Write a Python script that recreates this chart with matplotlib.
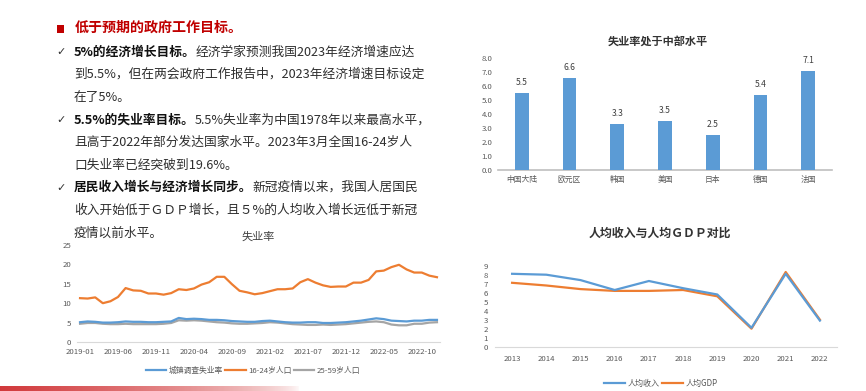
import matplotlib
matplotlib.use("Agg")
import matplotlib.pyplot as plt
import numpy as np
from matplotlib.patches import Rectangle

plt.rcParams['font.family'] = ['Noto Sans CJK SC', 'DejaVu Sans']

W, H = 866, 391
FAM = ['Noto Sans CJK SC', 'DejaVu Sans']

# ---------------- data ----------------
# Unemployment monthly 2019-01 .. 2022-12
urban_rate = [5.1, 5.3, 5.2, 5.0, 5.0, 5.1, 5.3, 5.2, 5.2, 5.1, 5.1, 5.2,
              5.3, 6.2, 5.9, 6.0, 5.9, 5.7, 5.7, 5.6, 5.4, 5.3, 5.2, 5.2,
              5.4, 5.5, 5.3, 5.1, 5.0, 5.0, 5.1, 5.1, 4.9, 4.9, 5.0, 5.1,
              5.3, 5.5, 5.8, 6.1, 5.9, 5.5, 5.4, 5.3, 5.5, 5.5, 5.7, 5.7]
youth_rate = [11.3, 11.2, 11.5, 10.0, 10.5, 11.6, 13.9, 13.3, 13.2, 12.5, 12.5, 12.2,
              12.6, 13.6, 13.4, 13.8, 14.8, 15.4, 16.8, 16.8, 14.9, 13.2, 12.8, 12.3,
              12.6, 13.1, 13.6, 13.6, 13.8, 15.4, 16.2, 15.3, 14.6, 14.2, 14.3, 14.3,
              15.3, 15.3, 16.0, 18.2, 18.4, 19.3, 19.9, 18.7, 17.9, 17.9, 17.1, 16.7]
prime_rate = [4.7, 4.9, 4.9, 4.7, 4.6, 4.6, 4.7, 4.6, 4.6, 4.6, 4.6, 4.7,
              4.9, 5.6, 5.5, 5.6, 5.5, 5.3, 5.1, 5.0, 4.8, 4.7, 4.7, 4.8,
              4.9, 5.1, 5.0, 4.8, 4.6, 4.5, 4.4, 4.4, 4.5, 4.4, 4.5, 4.6,
              4.8, 5.0, 5.2, 5.3, 5.1, 4.5, 4.3, 4.3, 4.7, 4.7, 5.0, 5.1]
months = [f"{2019 + i // 12}-{i % 12 + 1:02d}" for i in range(48)]
line_series_names = ['城镇调查失业率', '16-24岁人口', '25-59岁人口']

# Bar chart
bar_categories = ['中国大陆', '欧元区', '韩国', '美国', '日本', '德国', '法国']
bar_values = [5.5, 6.6, 3.3, 3.5, 2.5, 5.4, 7.1]

# Income vs GDP
years = ['2013', '2014', '2015', '2016', '2017', '2018', '2019', '2020', '2021', '2022']
income_growth = [8.1, 8.0, 7.4, 6.3, 7.3, 6.5, 5.8, 2.1, 8.1, 2.9]
gdp_growth = [7.1, 6.8, 6.4, 6.2, 6.2, 6.3, 5.6, 2.0, 8.3, 3.0]

BLUE = '#5B9BD5'
ORANGE = '#ED7D31'
GRAY = '#A5A5A5'
TICK = '#595959'
AXIS = '#D9D9D9'

fig = plt.figure(figsize=(W / 100, H / 100), dpi=100)
fig.patch.set_facecolor('white')


def fx(px):
    return px / W


def fy(py):
    return 1 - py / H


def axes_px(l, t, r, b):
    return fig.add_axes([fx(l), fy(b), (r - l) / W, (b - t) / H])


# ---------------- text block ----------------
fig.add_artist(Rectangle((fx(57), fy(33)), 7 / W, 8 / H, transform=fig.transFigure,
                         color='#C00000', lw=0))
fig.text(fx(74.5), fy(28), '低于预期的政府工作目标。', fontsize=10.1, weight='bold',
         color='#C00000', va='center', ha='left', family=FAM)

renderer = fig.canvas.get_renderer()
BODY = 9.15


def draw_line(x_px, y_px, segments):
    x = x_px
    for txt, bold in segments:
        t = fig.text(x / W, fy(y_px), txt, fontsize=BODY,
                     weight='bold' if bold else 'normal',
                     color='#111111' if bold else '#2E2E2E',
                     va='center', ha='left', family=FAM)
        bb = t.get_window_extent(renderer)
        x = bb.x1


lines = [
    [('5%的经济增长目标。', True), ('经济学家预测我国2023年经济增速应达', False)],
    [('到5.5%，但在两会政府工作报告中，2023年经济增速目标设定', False)],
    [('在了5%。', False)],
    [('5.5%的失业率目标。', True), ('5.5%失业率为中国1978年以来最高水平，', False)],
    [('且高于2022年部分发达国家水平。2023年3月全国16-24岁人', False)],
    [('口失业率已经突破到19.6%。', False)],
    [('居民收入增长与经济增长同步。', True), ('新冠疫情以来，我国人居国民', False)],
    [('收入开始低于ＧＤＰ增长，且５%的人均收入增长远低于新冠', False)],
    [('疫情以前水平。', False)],
]
for i, segs in enumerate(lines):
    y = 52 + 22.6 * i
    draw_line(74, y, segs)
    if i in (0, 3, 6):
        fig.text(fx(56), fy(y), '✓', fontsize=8, color='#333333', va='center',
                 ha='left', family=['DejaVu Sans'])

# ---------------- unemployment line chart ----------------
ax1 = axes_px(77, 245, 440, 342)
xs = np.arange(len(months))
ax1.plot(xs, urban_rate, color=BLUE, lw=1.6, label=line_series_names[0], zorder=3)
ax1.plot(xs, youth_rate, color=ORANGE, lw=1.6, label=line_series_names[1], zorder=3)
ax1.plot(xs, prime_rate, color=GRAY, lw=1.6, label=line_series_names[2], zorder=2)
ax1.set_xlim(-0.4, 47.4)
ax1.set_ylim(0, 25)
ax1.set_yticks([0, 5, 10, 15, 20, 25])
ax1.set_xticks(xs[::5])
ax1.set_xticklabels(months[::5])
ax1.tick_params(length=0, labelsize=5.6, colors=TICK, pad=4)
for s in ['top', 'right', 'left']:
    ax1.spines[s].set_visible(False)
ax1.spines['bottom'].set_color(AXIS)
ax1.spines['bottom'].set_linewidth(0.8)
ax1.set_facecolor('none')
fig.text(fx(258), fy(237), '失业率', fontsize=8, color='#404040', ha='center', va='center')
h, l = ax1.get_legend_handles_labels()
fig.legend(h, l, loc='center', bbox_to_anchor=(fx(253), fy(371)), ncol=3,
           frameon=False, fontsize=5.6, handlelength=2.6, columnspacing=0.3,
           handletextpad=0.3, labelcolor=TICK)

# ---------------- bar chart ----------------
ax2 = axes_px(498, 58.3, 832, 170)
bx = np.arange(len(bar_categories))
ax2.bar(bx, bar_values, width=0.29, color=BLUE, zorder=3)
for xi, v in zip(bx, bar_values):
    ax2.annotate(f'{v:.1f}', (xi, v), xytext=(0, 7.5), textcoords='offset points',
                 ha='center', va='center', fontsize=6.2, color='#404040')
ax2.set_xlim(-0.5, len(bar_categories) - 0.5)
ax2.set_ylim(0, 8)
ax2.set_yticks(np.arange(0, 9, 1))
ax2.set_yticklabels([f'{v:.1f}' for v in np.arange(0, 9, 1)])
ax2.set_xticks(bx)
ax2.set_xticklabels(bar_categories)
ax2.tick_params(length=0, labelsize=5.6, colors=TICK, pad=4)
for s in ['top', 'right', 'left']:
    ax2.spines[s].set_visible(False)
ax2.spines['bottom'].set_color('#BFBFBF')
ax2.spines['bottom'].set_linewidth(1.2)
fig.text(fx(658), fy(40.8), '失业率处于中部水平', fontsize=8, weight='bold',
         color='#333333', ha='center', va='center')

# ---------------- income vs GDP chart ----------------
ax3 = axes_px(495, 265.7, 837, 346.7)
yx = np.arange(len(years))
ax3.plot(yx, income_growth, color=BLUE, lw=1.6, label='人均收入', zorder=3)
ax3.plot(yx, gdp_growth, color=ORANGE, lw=1.6, label='人均GDP', zorder=2)
ax3.set_xlim(-0.5, len(years) - 0.5)
ax3.set_ylim(0, 9)
ax3.set_yticks(np.arange(0, 10, 1))
ax3.set_xticks(yx)
ax3.set_xticklabels(years)
ax3.tick_params(length=0, labelsize=5.6, colors=TICK)
ax3.tick_params(axis='x', pad=6)
ax3.tick_params(axis='y', pad=5)
for s in ['top', 'right', 'left']:
    ax3.spines[s].set_visible(False)
ax3.spines['bottom'].set_color(AXIS)
ax3.spines['bottom'].set_linewidth(0.8)
fig.text(fx(660), fy(233), '人均收入与人均ＧＤＰ对比', fontsize=8.6, weight='bold',
         color='#333333', ha='center', va='center')
h3, l3 = ax3.get_legend_handles_labels()
fig.legend(h3, l3, loc='center', bbox_to_anchor=(fx(661), fy(383)), ncol=2,
           frameon=False, fontsize=5.8, handlelength=2.6, columnspacing=0.3,
           handletextpad=0.3, labelcolor=TICK)

# ---------------- decorative red gradient bar ----------------
axg = fig.add_axes([0, 0, 300 / W, 5 / H])
grad = np.zeros((1, 256, 4))
grad[..., 0] = 0.82
grad[..., 1] = 0.22
grad[..., 2] = 0.23
grad[..., 3] = np.linspace(1, 0, 256) ** 0.6
axg.imshow(grad, aspect='auto', extent=(0, 1, 0, 1))
axg.axis('off')

fig.savefig('out.png', dpi=100, facecolor='white')
